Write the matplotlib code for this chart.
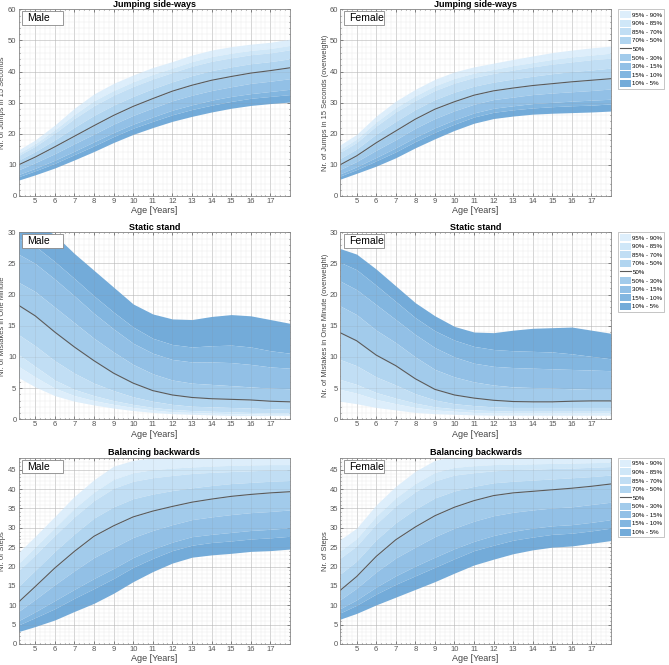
import numpy as np
import matplotlib
matplotlib.use('Agg')
import matplotlib.pyplot as plt
from matplotlib.patches import Patch, Rectangle
from matplotlib.lines import Line2D
from matplotlib.ticker import MultipleLocator

plt.rcParams['font.family'] = ['Liberation Sans', 'DejaVu Sans']

ages = [4.15, 5, 6, 7, 8, 9, 10, 11, 12, 13, 14, 15, 16, 17, 18]
percentiles = [5, 10, 15, 30, 50, 70, 85, 90, 95]

# one row per age: p5, p10, p15, p30, p50, p70, p85, p90, p95
jump_male = [
    [5.1, 6.2, 6.9, 8.4, 10.0, 11.5, 13.0, 13.7, 14.8],
    [6.8, 8.1, 8.9, 10.7, 12.5, 14.3, 16.0, 16.8, 18.0],
    [9.0, 10.5, 11.5, 13.6, 15.8, 18.0, 20.2, 21.3, 22.8],
    [11.6, 13.3, 14.4, 16.8, 19.2, 22.1, 24.9, 26.2, 28.2],
    [14.3, 16.1, 17.4, 19.9, 22.6, 25.9, 29.0, 30.6, 32.8],
    [17.2, 19.1, 20.4, 23.1, 25.9, 29.2, 32.4, 33.9, 36.2],
    [19.8, 21.8, 23.1, 25.9, 28.8, 32.0, 35.2, 36.7, 38.9],
    [22.0, 24.0, 25.4, 28.3, 31.3, 34.5, 37.6, 39.1, 41.3],
    [24.0, 26.1, 27.6, 30.6, 33.7, 36.7, 39.7, 41.1, 43.2],
    [25.6, 27.8, 29.3, 32.4, 35.6, 38.7, 41.7, 43.2, 45.3],
    [27.0, 29.2, 30.8, 33.9, 37.2, 40.3, 43.3, 44.8, 46.9],
    [28.2, 30.4, 32.0, 35.1, 38.4, 41.5, 44.4, 45.9, 48.0],
    [29.1, 31.4, 32.9, 36.2, 39.5, 42.5, 45.4, 46.8, 48.8],
    [29.7, 32.0, 33.6, 36.9, 40.3, 43.2, 46.0, 47.4, 49.4],
    [30.2, 32.6, 34.3, 37.7, 41.2, 44.1, 47.0, 48.4, 50.4],
]
jump_female = [
    [5.4, 6.4, 7.1, 8.5, 10.0, 12.0, 14.0, 15.0, 16.4],
    [7.3, 8.5, 9.4, 11.1, 12.9, 15.1, 17.2, 18.3, 19.8],
    [9.6, 11.3, 12.4, 14.7, 17.1, 19.9, 22.5, 23.8, 25.7],
    [12.3, 14.2, 15.5, 18.1, 20.9, 24.0, 27.0, 28.4, 30.5],
    [15.5, 17.5, 18.9, 21.8, 24.7, 27.8, 30.7, 32.2, 34.3],
    [18.4, 20.5, 21.9, 24.9, 27.9, 31.0, 33.9, 35.4, 37.5],
    [21.1, 23.1, 24.5, 27.4, 30.3, 33.4, 36.3, 37.8, 39.9],
    [23.4, 25.4, 26.7, 29.5, 32.4, 35.3, 38.1, 39.5, 41.5],
    [24.9, 26.9, 28.2, 31.0, 33.8, 36.6, 39.4, 40.7, 42.7],
    [25.7, 27.7, 29.0, 31.8, 34.7, 37.6, 40.5, 41.9, 43.9],
    [26.3, 28.3, 29.7, 32.6, 35.5, 38.5, 41.5, 42.9, 45.0],
    [26.6, 28.7, 30.1, 33.1, 36.1, 39.3, 42.4, 43.9, 46.1],
    [26.8, 29.0, 30.5, 33.5, 36.7, 40.0, 43.1, 44.7, 46.9],
    [27.0, 29.2, 30.8, 33.9, 37.2, 40.5, 43.8, 45.3, 47.6],
    [27.3, 29.6, 31.1, 34.4, 37.7, 41.1, 44.3, 45.9, 48.2],
]
static_male = [
    [6.7, 8.5, 10.4, 13.6, 18.3, 22.0, 26.5, 29.0, 32.0],
    [5.2, 6.8, 8.5, 11.8, 16.6, 20.5, 25.0, 27.8, 31.5],
    [3.8, 5.0, 6.3, 9.4, 14.0, 18.0, 22.5, 25.3, 29.6],
    [2.9, 3.8, 4.8, 7.4, 11.6, 15.5, 19.8, 22.6, 26.6],
    [2.3, 3.0, 3.8, 5.8, 9.4, 13.0, 17.0, 19.8, 23.9],
    [1.8, 2.4, 3.0, 4.6, 7.4, 10.8, 14.5, 17.2, 21.2],
    [1.4, 1.9, 2.4, 3.6, 5.8, 8.8, 12.2, 14.8, 18.5],
    [1.1, 1.5, 1.9, 2.9, 4.6, 7.3, 10.6, 13.0, 16.9],
    [0.9, 1.2, 1.6, 2.4, 3.9, 6.3, 9.6, 12.0, 16.1],
    [0.8, 1.1, 1.4, 2.1, 3.5, 5.8, 9.2, 11.6, 16.0],
    [0.7, 1.0, 1.3, 2.0, 3.3, 5.6, 9.2, 11.8, 16.5],
    [0.6, 0.9, 1.2, 1.9, 3.2, 5.4, 9.1, 11.9, 16.8],
    [0.6, 0.9, 1.1, 1.8, 3.1, 5.2, 8.8, 11.6, 16.6],
    [0.6, 0.8, 1.0, 1.7, 2.9, 5.0, 8.4, 11.0, 16.0],
    [0.6, 0.8, 1.0, 1.6, 2.8, 4.9, 8.2, 10.6, 15.4],
]
static_female = [
    [2.9, 4.8, 6.4, 9.6, 13.9, 18.2, 22.2, 25.2, 27.4],
    [2.5, 4.2, 5.6, 8.6, 12.6, 16.8, 20.8, 24.0, 26.5],
    [1.9, 3.2, 4.3, 6.8, 10.3, 14.3, 18.4, 21.5, 24.1],
    [1.5, 2.5, 3.4, 5.5, 8.6, 12.3, 16.0, 18.9, 21.4],
    [1.1, 1.9, 2.6, 4.1, 6.5, 10.0, 13.6, 16.3, 18.7],
    [0.9, 1.5, 2.0, 3.1, 4.8, 8.0, 11.5, 14.2, 16.6],
    [0.8, 1.3, 1.7, 2.5, 3.9, 6.8, 10.0, 12.7, 14.9],
    [0.7, 1.1, 1.5, 2.2, 3.4, 6.0, 9.0, 11.7, 14.0],
    [0.65, 1.0, 1.4, 2.0, 3.05, 5.5, 8.5, 11.2, 13.9],
    [0.65, 1.0, 1.3, 1.9, 2.85, 5.2, 8.3, 11.0, 14.3],
    [0.65, 1.0, 1.3, 1.9, 2.8, 5.1, 8.2, 10.9, 14.6],
    [0.65, 1.0, 1.3, 1.9, 2.8, 5.0, 8.1, 10.8, 14.7],
    [0.65, 1.0, 1.3, 1.9, 2.9, 4.9, 8.0, 10.5, 14.8],
    [0.65, 1.0, 1.3, 1.9, 2.95, 4.8, 7.9, 10.1, 14.3],
    [0.65, 1.0, 1.3, 1.9, 2.95, 4.8, 7.8, 9.7, 13.8],
]
balance_male = [
    [3.2, 4.9, 6.0, 8.4, 10.8, 14.9, 18.9, 20.8, 23.6],
    [4.5, 6.8, 8.3, 11.5, 14.8, 19.0, 23.0, 25.0, 27.8],
    [6.2, 9.1, 11.2, 15.3, 19.6, 23.9, 28.0, 30.0, 32.9],
    [8.4, 11.8, 14.1, 18.9, 23.9, 28.4, 32.8, 35.0, 38.1],
    [10.5, 14.3, 16.9, 22.3, 27.8, 32.5, 37.0, 39.2, 42.4],
    [13.1, 16.9, 19.5, 24.9, 30.5, 35.4, 40.2, 42.5, 45.9],
    [16.1, 19.8, 22.3, 27.5, 32.8, 37.5, 42.0, 44.2, 47.4],
    [18.7, 22.1, 24.5, 29.3, 34.3, 38.7, 42.9, 45.0, 48.0],
    [20.9, 24.1, 26.3, 30.8, 35.5, 39.6, 43.5, 45.4, 48.2],
    [22.4, 25.5, 27.7, 32.1, 36.6, 40.3, 44.0, 45.7, 48.3],
    [23.0, 26.2, 28.3, 32.8, 37.4, 40.9, 44.3, 45.9, 48.3],
    [23.4, 26.6, 28.8, 33.4, 38.1, 41.4, 44.5, 46.1, 48.3],
    [23.9, 27.1, 29.3, 33.9, 38.6, 41.7, 44.7, 46.2, 48.3],
    [24.1, 27.4, 29.6, 34.2, 39.0, 42.0, 44.9, 46.3, 48.3],
    [24.5, 27.8, 30.0, 34.6, 39.3, 42.2, 45.0, 46.3, 48.3],
]
balance_female = [
    [6.4, 8.0, 9.1, 11.4, 13.8, 18.0, 22.1, 24.0, 26.9],
    [7.9, 10.0, 11.4, 14.4, 17.4, 21.4, 25.3, 27.2, 29.9],
    [10.1, 12.9, 14.7, 18.6, 22.6, 26.9, 31.0, 33.0, 35.9],
    [12.1, 15.4, 17.6, 22.2, 26.9, 31.3, 35.6, 37.7, 40.7],
    [14.1, 17.6, 20.1, 25.0, 30.2, 34.8, 39.3, 41.4, 44.6],
    [16.1, 19.8, 22.4, 27.7, 33.1, 37.7, 42.1, 44.3, 47.4],
    [18.3, 22.0, 24.6, 29.9, 35.3, 39.5, 43.6, 45.6, 48.5],
    [20.4, 24.1, 26.5, 31.7, 37.0, 40.7, 44.2, 46.0, 48.5],
    [21.9, 25.5, 28.0, 33.1, 38.3, 41.6, 44.7, 46.3, 48.5],
    [23.3, 26.8, 29.1, 34.0, 39.0, 42.0, 45.0, 46.4, 48.5],
    [24.3, 27.6, 29.9, 34.6, 39.4, 42.3, 45.1, 46.5, 48.5],
    [25.0, 28.3, 30.5, 35.1, 39.8, 42.6, 45.3, 46.6, 48.5],
    [25.3, 28.6, 30.8, 35.4, 40.2, 42.9, 45.4, 46.7, 48.5],
    [26.0, 29.2, 31.4, 36.0, 40.7, 43.2, 45.6, 46.8, 48.5],
    [26.7, 29.9, 32.1, 36.6, 41.3, 43.6, 45.8, 46.9, 48.5],
]

band_labels = ['95% - 90%', '90% - 85%', '85% - 70%', '70% - 50%',
               '50% - 30%', '30% - 15%', '15% - 10%', '10% - 5%']
band_colors = ['#ddeefb', '#cfe7f8', '#c1def4', '#b1d5f0',
               '#a2cbeb', '#92c0e6', '#82b6e0', '#73abd9']

W, H = 669, 665
fig = plt.figure(figsize=(W / 100, H / 100), dpi=100)


def px_axes(left, top, right, bottom):
    return fig.add_axes([left / W, 1 - bottom / H, (right - left) / W, (bottom - top) / H])


def panel(ax, data, title, ylabel, ymax, ystep, yminor, sex, inverted, legend, ylab_x):
    d = np.array(data).T
    # bands between neighbouring percentile curves, top band first
    for i in range(8):
        hi = d[8 - i]
        lo = d[7 - i]
        col = band_colors[7 - i] if inverted else band_colors[i]
        ax.fill_between(ages, lo, hi, color=col, lw=0, zorder=2)
    ax.plot(ages, d[4], color='#5a5a5a', lw=0.8, zorder=3)

    ax.set_xlim(4.15, 18)
    ax.set_ylim(0, ymax)
    ax.set_xticks(range(5, 18))
    ax.set_yticks(np.arange(0, ymax + 0.01, ystep))
    ax.xaxis.set_minor_locator(MultipleLocator(0.25))
    ax.yaxis.set_minor_locator(MultipleLocator(yminor))
    ax.set_axisbelow(True)
    ax.grid(which='major', color='#d4d4d4', lw=0.5)
    ax.grid(which='minor', color='#ededed', lw=0.35)
    # faint major grid showing through the bands
    for x in range(5, 18):
        ax.axvline(x, color='#8a8a8a', alpha=0.18, lw=0.5, zorder=2.5)
    for y in np.arange(ystep, ymax, ystep):
        ax.axhline(y, color='#8a8a8a', alpha=0.18, lw=0.5, zorder=2.5)

    ax.tick_params(which='both', direction='in', labelsize=5.5, colors='#555555',
                   length=2, width=0.5, pad=1.5, top=True, right=True)
    ax.tick_params(which='minor', length=1)
    for s in ax.spines.values():
        s.set_color('#888888')
        s.set_linewidth(0.6)
        s.set_zorder(6)
    ax.set_title(title, fontsize=6.5, fontweight='bold', pad=2)
    ax.set_xlabel('Age [Years]', fontsize=6.5, color='#444444', labelpad=1)
    ax.set_ylabel(ylabel, fontsize=5.4, color='#444444')
    ax.yaxis.set_label_coords(ylab_x, 0.5)

    ax.add_patch(Rectangle((0.013, 0.917), 0.151, 0.074, transform=ax.transAxes,
                           fc='white', ec='#888888', lw=0.6, zorder=7))
    ax.text(0.032, 0.953, sex, transform=ax.transAxes, fontsize=7.5,
            va='center', ha='left', zorder=8)

    if legend:
        handles = []
        for i in range(4):
            handles.append(Patch(fc=band_colors[i], ec='none', label=band_labels[i]))
        handles.append(Line2D([], [], color='#5a5a5a', lw=0.8, label='50%'))
        for i in range(4, 8):
            handles.append(Patch(fc=band_colors[i], ec='none', label=band_labels[i]))
        leg = ax.legend(handles=handles, loc='upper left', bbox_to_anchor=(1.025, 1.0),
                        prop={'family': 'Liberation Sans', 'size': 4.4},
                        frameon=True, fancybox=False, borderaxespad=0,
                        handlelength=1.9, handleheight=1.4, handletextpad=0.2,
                        labelspacing=0.25, borderpad=0.3)
        leg.get_frame().set_edgecolor('#999999')
        leg.get_frame().set_linewidth(0.5)


rows = [
    (9.3, 196, jump_male, jump_female, 'Jumping side-ways',
     'Nr. of Jumps in 15 Seconds', 'Nr. of Jumps in 15 Seconds (overweight)', 60, 10, 2, False),
    (232.3, 419.3, static_male, static_female, 'Static stand',
     'Nr. of Mistakes in One Minute', 'Nr. of Mistakes in One Minute (overweight)', 30, 5, 1, True),
    (458, 644, balance_male, balance_female, 'Balancing backwards',
     'Nr. of Steps', 'Nr. of Steps', 48, 5, 1, False),
]

for top, bottom, dm, df, title, ylm, ylf, ymax, ystep, yminor, inv in rows:
    axl = px_axes(18.5, top, 290, bottom)
    panel(axl, dm, title, ylm, ymax, ystep, yminor, 'Male', inv, False, -0.046)
    axr = px_axes(340, top, 611, bottom)
    panel(axr, df, title, ylf, ymax, ystep, yminor, 'Female', inv, True, -0.042)

fig.savefig('out.png', dpi=100)
